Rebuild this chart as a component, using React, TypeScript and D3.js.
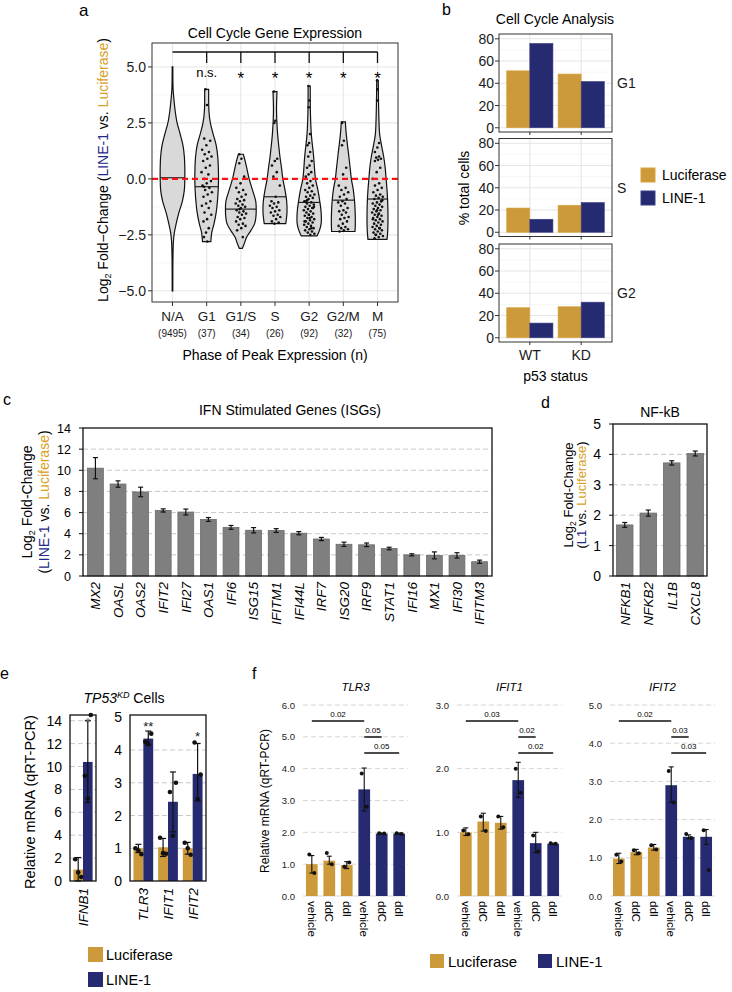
import React from 'react';
import * as d3 from 'd3';

const FONT = '"Liberation Sans", Arial, Helvetica, sans-serif';
const LUC = '#CC9A3A';
const L1 = '#262A70';
const LUC_TXT = '#D9A024';
const L1_TXT = '#1E2A86';
const BAR_GRAY = '#7F7F7F';

// ---------- Panel a data ----------
const phases = ['N/A', 'G1', 'G1/S', 'S', 'G2', 'G2/M', 'M'];
const phaseCounts = ['(9495)', '(37)', '(34)', '(26)', '(92)', '(32)', '(75)'];
const sigLabels = ['', 'n.s.', '*', '*', '*', '*', '*'];
const aYTicks = [-5, -2.5, 0, 2.5, 5];
const aYMinor = [-3.75, -1.25, 1.25, 3.75];
// violin outlines: [log2FC, relative density]
const violinNA = [[5.0, 0.02], [4.0, 0.04], [3.5, 0.1], [3.0, 0.18], [2.5, 0.3], [2.0, 0.5], [1.5, 0.68], [1.0, 0.77], [0.5, 0.8], [0, 0.8], [-0.5, 0.77], [-1.0, 0.64], [-1.5, 0.42], [-2.0, 0.24], [-2.4, 0.12], [-2.8, 0.06], [-3.5, 0.03], [-5.0, 0.02]];
const violinG1 = [[4.0, 0.13], [3.5, 0.13], [3.0, 0.15], [2.5, 0.24], [2.0, 0.42], [1.5, 0.62], [1.0, 0.72], [0.5, 0.76], [0, 0.77], [-0.5, 0.75], [-1.0, 0.7], [-1.5, 0.62], [-2.0, 0.48], [-2.4, 0.33], [-2.8, 0.27]];
const violinG1S = [[1.1, 0.16], [0.8, 0.28], [0.5, 0.38], [0, 0.54], [-0.5, 0.76], [-1.0, 0.97], [-1.4, 1.0], [-1.7, 0.98], [-2.0, 0.9], [-2.3, 0.66], [-2.6, 0.38], [-2.9, 0.22], [-3.1, 0.1]];
const violinS = [[3.9, 0.13], [3.0, 0.1], [2.0, 0.17], [1.5, 0.24], [1.0, 0.32], [0.5, 0.42], [0, 0.51], [-0.5, 0.65], [-1.0, 0.76], [-1.5, 0.78], [-2.0, 0.7]];
const violinG2 = [[4.15, 0.07], [3.0, 0.08], [2.0, 0.14], [1.0, 0.29], [0, 0.41], [-0.5, 0.57], [-1.0, 0.69], [-1.5, 0.78], [-2.0, 0.78], [-2.3, 0.67], [-2.55, 0.51]];
const violinG2M = [[2.55, 0.13], [2.0, 0.19], [1.5, 0.27], [1.0, 0.36], [0.5, 0.44], [0, 0.52], [-0.5, 0.65], [-1.0, 0.73], [-1.5, 0.77], [-2.0, 0.78], [-2.35, 0.76]];
const violinM = [[4.4, 0.05], [3.0, 0.08], [2.0, 0.14], [1.5, 0.26], [1.0, 0.4], [0.5, 0.5], [0, 0.56], [-0.5, 0.62], [-1.0, 0.66], [-1.5, 0.68], [-2.0, 0.68], [-2.4, 0.66], [-2.7, 0.62]];
const violins = [violinNA, violinG1, violinG1S, violinS, violinG2, violinG2M, violinM];
const medians = [0.05, -0.35, -1.35, -0.8, -1.05, -0.95, -0.9];
const ptsG1 = [4.0, 3.3, 1.8, 1.7, 1.5, 1.3, 1.2, 1.1, 1.0, 0.9, 0.8, 0.6, 0.5, 0.3, 0.2, 0.0, -0.1, -0.2, -0.3, -0.4, -0.5, -0.6, -0.7, -0.8, -1.0, -1.1, -1.2, -1.3, -1.5, -1.6, -1.8, -1.9, -2.2, -2.4, -2.6, -2.8, -0.35];
const ptsG1S = [1.1, 0.9, 0.7, 0.1, -0.2, -0.4, -0.5, -0.6, -0.7, -0.8, -0.9, -0.95, -1.0, -1.1, -1.15, -1.2, -1.25, -1.3, -1.4, -1.45, -1.5, -1.55, -1.6, -1.7, -1.75, -1.8, -1.9, -2.0, -2.05, -2.1, -2.2, -2.3, -2.6, -1.35];
const ptsS = [3.9, 2.6, 2.5, 0.9, 0.8, 0.6, 0.3, 0.1, -0.3, -0.8, -1.0, -1.05, -1.1, -1.2, -1.25, -1.3, -1.4, -1.45, -1.5, -1.6, -1.65, -1.7, -1.8, -1.9, -1.95, -2.0];
const ptsG2 = [4.15, 3.5, 3.2, 2.0, 1.6, 1.5, 1.2, 1.0, 0.8, 0.6, 0.5, 0.3, 0.2, 0.1, -0.1, -0.2, -0.3, -0.4, -0.5, -0.55, -0.6, -0.7, -0.75, -0.8, -0.85, -0.9, -1.0, -1.05, -1.1, -1.15, -1.2, -1.25, -1.3, -1.35, -1.4, -1.45, -1.5, -1.55, -1.6, -1.65, -1.7, -1.75, -1.8, -1.85, -1.9, -1.95, -2.0, -2.05, -2.1, -2.15, -2.2, -2.25, -2.3, -2.35, -2.4, -2.45, -2.5, -1.0, -1.3, -1.6, -1.9, -2.2, -0.95, -1.25, -1.75];
const ptsG2M = [2.5, 1.7, 1.5, 0.5, 0.2, -0.3, -0.4, -0.5, -0.6, -0.7, -0.8, -0.9, -1.0, -1.05, -1.1, -1.2, -1.3, -1.4, -1.45, -1.5, -1.6, -1.7, -1.75, -1.8, -1.9, -2.0, -2.1, -2.15, -2.2, -2.25, -2.3, -2.35];
const ptsM = [4.4, 4.0, 3.5, 1.6, 1.4, 1.2, 1.0, 0.95, 0.9, 0.85, 0.8, 0.5, 0.3, 0.0, -0.2, -0.3, -0.4, -0.5, -0.6, -0.7, -0.75, -0.8, -0.85, -0.9, -1.0, -1.05, -1.1, -1.15, -1.2, -1.25, -1.3, -1.35, -1.4, -1.45, -1.5, -1.55, -1.6, -1.65, -1.7, -1.75, -1.8, -1.85, -1.9, -1.95, -2.0, -2.05, -2.1, -2.15, -2.2, -2.25, -2.3, -2.35, -2.4, -2.45, -2.5, -2.55, -2.6, -2.65, -1.0, -1.4, -1.8, -2.2, -2.5, -0.95, -1.6];
const violinPts = [[], ptsG1, ptsG1S, ptsS, ptsG2, ptsG2M, ptsM];

// ---------- Panel b data ----------
const cyclePhases = ['G1', 'S', 'G2'];
const p53Status = ['WT', 'KD'];
const lucPct = [[51.2, 48.3], [21.8, 24.3], [27.0, 27.9]];
const l1Pct = [[75.8, 41.6], [11.7, 26.7], [13.2, 32.0]];
const bTicks = [0, 20, 40, 60, 80];
const bMinor = [10, 30, 50, 70];

// ---------- Panel c data ----------
const isgGenes = ['MX2', 'OASL', 'OAS2', 'IFIT2', 'IFI27', 'OAS1', 'IFI6', 'ISG15', 'IFITM1', 'IFI44L', 'IRF7', 'ISG20', 'IRF9', 'STAT1', 'IFI16', 'MX1', 'IFI30', 'IFITM3'];
const isgFC = [10.2, 8.7, 7.95, 6.2, 6.05, 5.35, 4.6, 4.33, 4.3, 4.05, 3.5, 3.0, 2.95, 2.6, 2.0, 1.95, 1.95, 1.35];
const isgErr = [1.0, 0.3, 0.45, 0.15, 0.28, 0.18, 0.18, 0.25, 0.18, 0.15, 0.15, 0.2, 0.17, 0.12, 0.1, 0.33, 0.25, 0.15];
const cTicks = [0, 2, 4, 6, 8, 10, 12, 14];

// ---------- Panel d data ----------
const nfkbGenes = ['NFKB1', 'NFKB2', 'IL1B', 'CXCL8'];
const nfkbFC = [1.68, 2.07, 3.72, 4.03];
const nfkbErr = [0.08, 0.1, 0.07, 0.08];
const dTicks = [0, 1, 2, 3, 4, 5];

// ---------- Panel e data ----------
const eGenes = ['IFNB1', 'TLR3', 'IFIT1', 'IFIT2'];
const eLucMean = [1.0, 1.0, 1.03, 1.0];
const eL1Mean = [10.4, 4.35, 2.42, 3.27];
const eLucErr = [[0, 2.05], [0.87, 1.12], [0.75, 1.3], [0.82, 1.18]];
const eL1Err = [[6.85, 14.0], [4.15, 4.58], [1.5, 3.33], [2.45, 4.2]];
const eLucPts = [[1.9, 0.75, 0.35], [1.0, 0.93, 0.82], [1.32, 0.85, 0.83], [1.17, 1.0, 0.8]];
const eL1Pts = [[9.2, 7.2, 14.5], [4.25, 4.18, 4.5], [2.72, 1.38, 3.0], [4.23, 2.5, 3.25]];
const eSig = ['*', '**', '', '*'];
const eSigAt = [13.45, 4.59, 0, 4.28];
const eTicksLeft = [0, 2, 4, 6, 8, 10, 12, 14];
const eTicksRight = [0, 1, 2, 3, 4, 5];

// ---------- Panel f data ----------
const fGenes = ['TLR3', 'IFIT1', 'IFIT2'];
const fTreat = ['vehicle', 'ddC', 'ddI', 'vehicle', 'ddC', 'ddI'];
const fVector = ['Luciferase', 'Luciferase', 'Luciferase', 'LINE-1', 'LINE-1', 'LINE-1'];
const fMax = [6, 3, 5];
const fMeans = [
  [1.0, 1.11, 0.97, 3.35, 1.96, 1.96],
  [1.0, 1.17, 1.15, 1.82, 0.83, 0.82],
  [0.98, 1.15, 1.27, 2.9, 1.55, 1.55],
];
const fErr = [
  [[0.72, 1.27], [1.0, 1.25], [0.86, 1.08], [2.67, 4.02], [1.94, 1.98], [1.94, 1.98]],
  [[0.95, 1.07], [1.02, 1.3], [1.05, 1.25], [1.55, 2.1], [0.68, 1.0], [0.81, 0.83]],
  [[0.85, 1.12], [1.08, 1.22], [1.2, 1.35], [2.45, 3.38], [1.5, 1.6], [1.35, 1.74]],
];
const fPts = [
  [[1.3, 0.72], [1.35, 1.0], [0.92, 1.05], [3.85, 2.8], [1.97, 1.96], [1.97, 1.95]],
  [[1.03, 0.97], [1.25, 1.02], [1.25, 1.08], [2.0, 1.62], [0.95, 0.7], [0.83, 0.82]],
  [[1.08, 0.9], [1.2, 1.12], [1.33, 1.22], [3.27, 2.45], [1.62, 1.52], [1.72, 0.68]],
];
const fPvals = [['0.02', '0.05', '0.05'], ['0.03', '0.02', '0.02'], ['0.02', '0.03', '0.03']];
const fPairs = [[0, 3], [3, 4], [3, 5]];

// ---------- helpers ----------
function ErrBar({ x, y0, y1, cap = 5, w = 1.2 }: { x: number; y0: number; y1: number; cap?: number; w?: number }) {
  return (
    <g stroke="#111" strokeWidth={w}>
      <line x1={x} x2={x} y1={y0} y2={y1} />
      <line x1={x - cap / 2} x2={x + cap / 2} y1={y0} y2={y0} />
      <line x1={x - cap / 2} x2={x + cap / 2} y1={y1} y2={y1} />
    </g>
  );
}

function PanelA() {
  const L = 152, R = 398, T = 43, B = 302;
  const x = d3.scalePoint<string>().domain(phases).range([L, R]).padding(0.6);
  const y = d3.scaleLinear().domain([-5.5, 6.07]).range([B, T]);
  const half = x.step() * 0.45;
  return (
    <g>
      <text x={79} y={16} fontSize={17}>a</text>
      <text x={275} y={38} fontSize={14} textAnchor="middle">Cell Cycle Gene Expression</text>
      {aYMinor.map((t) => <line key={'m' + t} x1={L} x2={R} y1={y(t)} y2={y(t)} stroke="#F0F0F0" strokeWidth={0.6} />)}
      {aYTicks.map((t) => <line key={'g' + t} x1={L} x2={R} y1={y(t)} y2={y(t)} stroke="#E6E6E6" strokeWidth={1.1} />)}
      {phases.map((p) => <line key={'v' + p} x1={x(p)} x2={x(p)} y1={T} y2={B} stroke="#E6E6E6" strokeWidth={1.1} />)}
      {phases.map((p, i) => {
        const v = violins[i] as [number, number][];
        const cx = x(p) as number;
        const wf = d3.scaleLinear().domain(v.map((d) => d[0])).range(v.map((d) => d[1])).clamp(true);
        const area = d3.area<[number, number]>()
          .y((d) => y(d[0]))
          .x0((d) => cx - d[1] * half)
          .x1((d) => cx + d[1] * half)
          .curve(d3.curveCatmullRom);
        const mw = wf(medians[i]) * half;
        return (
          <g key={p}>
            <path d={area(v) as string} fill="#D9D9D9" stroke="#111" strokeWidth={1.2} />
            <line x1={cx - mw} x2={cx + mw} y1={y(medians[i])} y2={y(medians[i])} stroke="#111" strokeWidth={1.1} />
            {violinPts[i].map((val, j) => {
              const g = ((j * 0.6180339) % 1) - 0.5;
              const lim = Math.min(wf(val) * half * 0.6, 5.5);
              return <circle key={j} cx={cx + g * 2 * lim} cy={y(val)} r={1.3} fill="#111" />;
            })}
          </g>
        );
      })}
      <line x1={L} x2={R} y1={y(0)} y2={y(0)} stroke="#FF1010" strokeWidth={2.2} strokeDasharray="6 4" />
      <rect x={L} y={T} width={R - L} height={B - T} fill="none" stroke="#333" strokeWidth={1} />
      <line x1={x('N/A')} x2={x('M')} y1={52} y2={52} stroke="#111" strokeWidth={1.3} />
      {phases.slice(1).map((p) => <line key={'b' + p} x1={x(p)} x2={x(p)} y1={52} y2={63} stroke="#111" strokeWidth={1.3} />)}
      {phases.map((p, i) => sigLabels[i] === 'n.s.'
        ? <text key={'s' + p} x={x(p)} y={77} fontSize={13} textAnchor="middle">n.s.</text>
        : sigLabels[i] ? <text key={'s' + p} x={x(p)} y={84} fontSize={17} textAnchor="middle">*</text> : null)}
      {aYTicks.map((t) => (
        <g key={'t' + t}>
          <line x1={L - 4} x2={L} y1={y(t)} y2={y(t)} stroke="#333" />
          <text x={L - 6} y={y(t) + 5} fontSize={14} textAnchor="end" fill="#1a1a1a">{t.toFixed(1).replace('-', '\u2212')}</text>
        </g>
      ))}
      {phases.map((p, i) => (
        <g key={'x' + p}>
          <line x1={x(p)} x2={x(p)} y1={B} y2={B + 4} stroke="#333" />
          <text x={x(p)} y={321} fontSize={13.5} textAnchor="middle" fill="#1a1a1a">{p}</text>
          <text x={x(p)} y={337} fontSize={10} textAnchor="middle" fill="#1a1a1a">{phaseCounts[i]}</text>
        </g>
      ))}
      <text x={275} y={360} fontSize={14} textAnchor="middle">Phase of Peak Expression (n)</text>
      <text transform="translate(108,170) rotate(-90)" fontSize={14} textAnchor="middle">
        Log<tspan fontSize={9} dy={3}>2</tspan><tspan dy={-3}> Fold{'\u2212'}Change (</tspan><tspan fill={L1_TXT}>LINE-1</tspan> vs. <tspan fill={LUC_TXT}>Luciferase</tspan>)
      </text>
    </g>
  );
}

function PanelB() {
  const L = 499, R = 612, H = 98;
  const tops = [34, 138.5, 244];
  const x = d3.scalePoint<string>().domain(p53Status).range([L, R]).padding(0.6);
  const bw = x.step() * 0.45;
  return (
    <g>
      <text x={442} y={15} fontSize={16}>b</text>
      <text x={555} y={24} fontSize={14} textAnchor="middle">Cell Cycle Analysis</text>
      {cyclePhases.map((ph, f) => {
        const T = tops[f], B = T + H;
        const y = d3.scaleLinear().domain([-3.8, 84.3]).range([B, T]);
        return (
          <g key={ph}>
            {bMinor.map((t) => <line key={'m' + t} x1={L} x2={R} y1={y(t)} y2={y(t)} stroke="#F0F0F0" strokeWidth={0.6} />)}
            {bTicks.map((t) => <line key={'g' + t} x1={L} x2={R} y1={y(t)} y2={y(t)} stroke="#E6E6E6" strokeWidth={1.1} />)}
            {p53Status.map((s) => <line key={'v' + s} x1={x(s)} x2={x(s)} y1={T} y2={B} stroke="#E6E6E6" strokeWidth={1.1} />)}
            {p53Status.map((s, k) => {
              const cx = x(s) as number;
              return (
                <g key={'bar' + s}>
                  <rect x={cx - bw} y={y(lucPct[f][k])} width={bw} height={y(0) - y(lucPct[f][k])} fill={LUC} stroke="#D9A43F" strokeWidth={0.6} />
                  <rect x={cx} y={y(l1Pct[f][k])} width={bw} height={y(0) - y(l1Pct[f][k])} fill={L1} stroke="#3A3E86" strokeWidth={0.6} />
                </g>
              );
            })}
            <rect x={L} y={T} width={R - L} height={H} fill="none" stroke="#333" strokeWidth={1} />
            {bTicks.map((t) => (
              <g key={'t' + t}>
                <line x1={L - 4} x2={L} y1={y(t)} y2={y(t)} stroke="#333" />
                <text x={L - 5} y={y(t) + 5} fontSize={14} textAnchor="end" fill="#1a1a1a">{t}</text>
              </g>
            ))}
            {p53Status.map((s) => <line key={'xt' + s} x1={x(s)} x2={x(s)} y1={B} y2={B + 3} stroke="#333" />)}
            <text x={617} y={T + H / 2 + 5} fontSize={14} fill="#1a1a1a">{ph}</text>
          </g>
        );
      })}
      {p53Status.map((s) => <text key={'xl' + s} x={x(s)} y={360} fontSize={14} textAnchor="middle" fill="#1a1a1a">{s}</text>)}
      <text x={555.5} y={381} fontSize={14} textAnchor="middle">p53 status</text>
      <text transform="translate(469,188) rotate(-90)" fontSize={14} textAnchor="middle">% total cells</text>
      <rect x={641} y={168} width={14} height={14} fill={LUC} stroke="#D9A43F" />
      <text x={662} y={180} fontSize={14}>Luciferase</text>
      <rect x={641} y={191} width={14} height={14} fill={L1} stroke="#3A3E86" />
      <text x={662} y={203} fontSize={14}>LINE-1</text>
    </g>
  );
}

function PanelC() {
  const L = 83, R = 492, T = 428, B = 576;
  const x = d3.scaleBand<string>().domain(isgGenes).range([L, R]).paddingInner(0.3).paddingOuter(0.2);
  const y = d3.scaleLinear().domain([0, 14]).range([B, T]);
  return (
    <g>
      <text x={3} y={405} fontSize={16}>c</text>
      <text x={290} y={415} fontSize={14} textAnchor="middle">IFN Stimulated Genes (ISGs)</text>
      {cTicks.filter((t) => t > 0 && t < 14).map((t) => <line key={'g' + t} x1={L} x2={R} y1={y(t)} y2={y(t)} stroke="#C8C8C8" strokeDasharray="5 3" />)}
      {isgGenes.map((g, i) => {
        const bx = x(g) as number;
        const cx = bx + x.bandwidth() / 2;
        return (
          <g key={g}>
            <rect x={bx} y={y(isgFC[i])} width={x.bandwidth()} height={B - y(isgFC[i])} fill={BAR_GRAY} stroke="#6A6A6A" strokeWidth={0.8} />
            <ErrBar x={cx} y0={y(isgFC[i] - isgErr[i])} y1={y(isgFC[i] + isgErr[i])} cap={5} />
            <text transform={`translate(${cx + 4.8},582) rotate(-90)`} fontSize={13.5} fontStyle="italic" textAnchor="end">{g}</text>
          </g>
        );
      })}
      <rect x={L} y={T} width={R - L} height={B - T} fill="none" stroke="#111" strokeWidth={1.3} />
      {cTicks.map((t) => (
        <g key={'t' + t}>
          <line x1={L - 4} x2={L} y1={y(t)} y2={y(t)} stroke="#111" />
          <text x={71} y={y(t) + 4.5} fontSize={12.5} textAnchor="end">{t}</text>
        </g>
      ))}
      <text transform="translate(32,502) rotate(-90)" fontSize={14} textAnchor="middle">
        Log<tspan fontSize={9} dy={3}>2</tspan><tspan dy={-3}> Fold-Change</tspan>
      </text>
      <text transform="translate(49,502) rotate(-90)" fontSize={14} textAnchor="middle">
        (<tspan fill={L1_TXT}>LINE-1</tspan> vs. <tspan fill={LUC_TXT}>Luciferase</tspan>)
      </text>
    </g>
  );
}

function PanelD() {
  const L = 613, R = 707, T = 424, B = 576;
  const x = d3.scaleBand<string>().domain(nfkbGenes).range([L, R]).paddingInner(0.3).paddingOuter(0.15);
  const y = d3.scaleLinear().domain([0, 5]).range([B, T]);
  return (
    <g>
      <text x={541} y={408} fontSize={16}>d</text>
      <text x={660} y={417} fontSize={14} textAnchor="middle">NF-kB</text>
      {dTicks.filter((t) => t > 0 && t < 5).map((t) => <line key={'g' + t} x1={L} x2={R} y1={y(t)} y2={y(t)} stroke="#C8C8C8" strokeDasharray="5 3" />)}
      {nfkbGenes.map((g, i) => {
        const bx = x(g) as number;
        const cx = bx + x.bandwidth() / 2;
        return (
          <g key={g}>
            <rect x={bx} y={y(nfkbFC[i])} width={x.bandwidth()} height={B - y(nfkbFC[i])} fill={BAR_GRAY} stroke="#6A6A6A" strokeWidth={0.8} />
            <ErrBar x={cx} y0={y(nfkbFC[i] - nfkbErr[i])} y1={y(nfkbFC[i] + nfkbErr[i])} cap={5} />
            <text transform={`translate(${cx + 4.8},582) rotate(-90)`} fontSize={13.5} fontStyle="italic" textAnchor="end">{g}</text>
          </g>
        );
      })}
      <rect x={L} y={T} width={R - L} height={B - T} fill="none" stroke="#111" strokeWidth={1.3} />
      {dTicks.map((t) => (
        <g key={'t' + t}>
          <line x1={L - 4} x2={L} y1={y(t)} y2={y(t)} stroke="#111" />
          <text x={601} y={y(t) + 5} fontSize={14} textAnchor="end">{t}</text>
        </g>
      ))}
      <text transform="translate(573,495) rotate(-90)" fontSize={13} textAnchor="middle">
        Log<tspan fontSize={8.5} dy={3}>2</tspan><tspan dy={-3}> Fold-Change</tspan>
      </text>
      <text transform="translate(586,495) rotate(-90)" fontSize={13} textAnchor="middle">
        (<tspan fill={L1_TXT}>L1</tspan> vs. <tspan fill={LUC_TXT}>Luciferase</tspan>)
      </text>
    </g>
  );
}

function PanelE() {
  const T = 715, B = 881;
  const plots = [
    { genes: eGenes.slice(0, 1), idx: [0], L: 70, R: 96, max: 14.5, ticks: eTicksLeft, lx: 62 },
    { genes: eGenes.slice(1), idx: [1, 2, 3], L: 130, R: 206, max: 5.07, ticks: eTicksRight, lx: 122 },
  ];
  const offs = [-3, 0, 3];
  return (
    <g>
      <text x={0} y={679} fontSize={16}>e</text>
      <text x={124} y={703} fontSize={14} textAnchor="middle">
        <tspan fontStyle="italic">TP53</tspan><tspan fontStyle="italic" fontSize={9} dy={-5}>KD</tspan><tspan dy={5}> Cells</tspan>
      </text>
      {plots.map((p, pi) => {
        const x = d3.scaleBand<string>().domain(p.genes).range([p.L + 1, p.R - 1]).paddingInner(0.2).paddingOuter(pi === 0 ? 0.08 : 0.1);
        const sub = d3.scaleBand<string>().domain(['Luciferase', 'LINE-1']).range([0, x.bandwidth()]);
        const y = d3.scaleLinear().domain([0, p.max]).range([B, T]);
        return (
          <g key={pi}>
            {p.ticks.filter((t) => t > 0 && y(t) > T + 3).map((t) => <line key={'g' + t} x1={p.L} x2={p.R} y1={y(t)} y2={y(t)} stroke="#C8C8C8" strokeDasharray="5 3" />)}
            {p.genes.map((g, k) => {
              const i = p.idx[k];
              const bx = x(g) as number;
              const lx = bx + (sub('Luciferase') as number);
              const rx = bx + (sub('LINE-1') as number);
              const w = sub.bandwidth();
              const lc = lx + w / 2, rc = rx + w / 2;
              return (
                <g key={g}>
                  <rect x={lx} y={y(eLucMean[i])} width={w} height={B - y(eLucMean[i])} fill={LUC} />
                  <rect x={rx} y={y(eL1Mean[i])} width={w} height={B - y(eL1Mean[i])} fill={L1} />
                  <ErrBar x={lc} y0={y(eLucErr[i][0])} y1={y(eLucErr[i][1])} cap={6} />
                  <ErrBar x={rc} y0={y(eL1Err[i][0])} y1={y(eL1Err[i][1])} cap={6} />
                  {eLucPts[i].map((v, j) => <circle key={'lp' + j} cx={lc + offs[j]} cy={y(v)} r={2.3} fill="#111" />)}
                  {eL1Pts[i].map((v, j) => <circle key={'rp' + j} cx={rc + offs[j]} cy={y(v)} r={2.3} fill="#111" />)}
                  {eSig[i] ? <text x={rc} y={y(eSigAt[i])} fontSize={13} textAnchor="middle" fill={i === 0 ? '#666' : '#222'}>{eSig[i]}</text> : null}
                  <text transform={`translate(${bx + x.bandwidth() / 2 + 5},888) rotate(-90)`} fontSize={13.5} fontStyle="italic" textAnchor="end">{g}</text>
                </g>
              );
            })}
            <rect x={p.L} y={T} width={p.R - p.L} height={B - T} fill="none" stroke="#111" strokeWidth={1.3} />
            {p.ticks.map((t) => (
              <text key={'t' + t} x={p.lx} y={y(t) + 5} fontSize={14} textAnchor="end">{t}</text>
            ))}
          </g>
        );
      })}
      <text transform="translate(35,802) rotate(-90)" fontSize={14.5} textAnchor="middle">Relative mRNA (qRT-PCR)</text>
      <rect x={88} y={947} width={15} height={15} fill={LUC} />
      <text x={106} y={960} fontSize={14.5}>Luciferase</text>
      <rect x={88} y={972} width={15} height={15} fill={L1} />
      <text x={106} y={985} fontSize={14.5}>LINE-1</text>
    </g>
  );
}

function PanelF() {
  const T = 705, B = 896;
  const ranges = [[303, 408], [457, 562], [610, 715]];
  const bracketY = [721, 737, 753];
  return (
    <g>
      <text x={252} y={679} fontSize={16}>f</text>
      {fGenes.map((gene, k) => {
        const [l, r] = ranges[k];
        const keys = fTreat.map((t, i) => fVector[i] + ':' + t);
        const x = d3.scaleBand<string>().domain(keys).range([l, r]).paddingInner(0.33).paddingOuter(0.17);
        const y = d3.scaleLinear().domain([0, fMax[k]]).range([B, T]);
        const ticks = d3.range(0, fMax[k] + 0.001, 1);
        const cxs = keys.map((kk) => (x(kk) as number) + x.bandwidth() / 2);
        return (
          <g key={gene}>
            <text x={(l + r) / 2} y={691} fontSize={11.5} fontStyle="italic" textAnchor="middle">{gene}</text>
            {ticks.map((t) => (
              <g key={'t' + t}>
                <line x1={l} x2={r} y1={y(t)} y2={y(t)} stroke="#D6D6D6" strokeDasharray={t === 0 ? undefined : '5 3'} strokeWidth={1} />
                <text x={l - 8} y={y(t) + 3.5} fontSize={9.5} textAnchor="end" fill="#222">{t.toFixed(1)}</text>
              </g>
            ))}
            {keys.map((kk, i) => {
              const bx = x(kk) as number;
              const cx = cxs[i];
              const col = fVector[i] === 'Luciferase' ? LUC : L1;
              const pts = fPts[k][i];
              return (
                <g key={kk}>
                  <rect x={bx} y={y(fMeans[k][i])} width={x.bandwidth()} height={B - y(fMeans[k][i])} fill={col} />
                  <ErrBar x={cx} y0={y(fErr[k][i][0])} y1={y(fErr[k][i][1])} cap={5} w={1.1} />
                  {pts.map((v, j) => <circle key={j} cx={cx + (j === 0 ? -2.5 : 2.5)} cy={y(v)} r={2} fill="#111" />)}
                  <text transform={`translate(${cx - 3.8},901) rotate(90)`} fontSize={11.5} textAnchor="start">{fTreat[i]}</text>
                </g>
              );
            })}
            {fPairs.map((pr, j) => {
              const x1 = cxs[pr[0]], x2 = cxs[pr[1]];
              return (
                <g key={'br' + j}>
                  <line x1={x1} x2={x2} y1={bracketY[j]} y2={bracketY[j]} stroke="#111" strokeWidth={1.5} />
                  <text x={(x1 + x2) / 2} y={bracketY[j] - 4.5} fontSize={8} textAnchor="middle">{fPvals[k][j]}</text>
                </g>
              );
            })}
          </g>
        );
      })}
      <text transform="translate(269,801) rotate(-90)" fontSize={12} textAnchor="middle">Relative mRNA (qRT-PCR)</text>
      <rect x={430} y={954} width={14} height={14} fill={LUC} />
      <text x={448} y={967} fontSize={15}>Luciferase</text>
      <rect x={538} y={954} width={14} height={14} fill={L1} />
      <text x={556} y={967} fontSize={15}>LINE-1</text>
    </g>
  );
}

export default function App() {
  return (
    <svg width={732} height={992} style={{ position: 'absolute', left: 0, top: 0, background: '#fff' }} fontFamily={FONT}>
      <rect width={732} height={992} fill="#fff" />
      <PanelA />
      <PanelB />
      <PanelC />
      <PanelD />
      <PanelE />
      <PanelF />
    </svg>
  );
}
